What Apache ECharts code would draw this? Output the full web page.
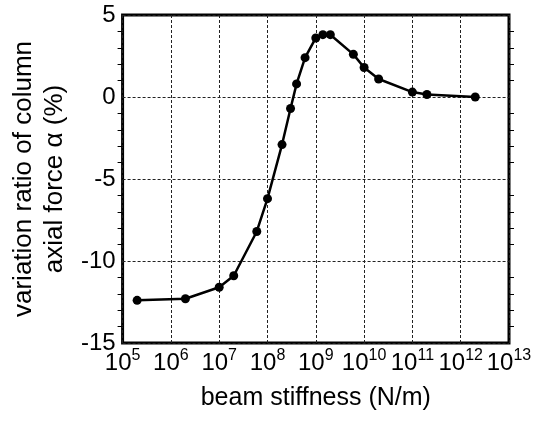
<!DOCTYPE html>
<html>
<head>
<meta charset="utf-8">
<script src="https://cdn.jsdelivr.net/npm/echarts@6/dist/echarts.min.js"></script>
<style>
  html, body { margin: 0; padding: 0; background: #fff; }
  #main { width: 538px; height: 421px; }
</style>
</head>
<body>
<div id="main"></div>
<script>
// beam stiffness (N/m) and variation ratio of column axial force (%)
var stiffness = [2e5, 2e6, 1e7, 2e7, 6e7, 1e8, 2e8, 3e8, 4e8, 6e8, 1e9, 1.4e9, 2e9, 6e9, 1e10, 2e10, 1e11, 2e11, 2e12];
var ratio = [-12.4, -12.3, -11.6, -10.9, -8.2, -6.2, -2.9, -0.7, 0.8, 2.4, 3.6, 3.8, 3.8, 2.6, 1.8, 1.1, 0.3, 0.15, 0];

var xName = 'beam stiffness (N/m)';
var yName = 'variation ratio of column\naxial force α (%)';

var font = 'Liberation Sans, Arial, sans-serif';
var myChart = echarts.init(document.getElementById('main'));

var gridLine = { show: true, lineStyle: { color: '#222', type: [3, 2], width: 1 } };

var option = {
  animation: false,
  textStyle: { fontFamily: font, color: '#000' },
  grid: {
    left: 119, right: 29, top: 15, bottom: 78,
    show: true, borderColor: '#000', borderWidth: 3, backgroundColor: 'transparent'
  },
  xAxis: {
    type: 'log',
    logBase: 10,
    min: 1e5,
    max: 1e13,
    splitNumber: 8,
    name: xName,
    nameLocation: 'middle',
    nameGap: 43,
    nameTextStyle: { fontSize: 25, color: '#000', fontFamily: font },
    axisLine: { show: false },
    axisTick: { show: false },
    splitLine: gridLine,
    axisLabel: {
      margin: 5,
      color: '#000',
      formatter: function (v) {
        return '{b|10}{s|' + Math.round(Math.log10(v)) + '}';
      },
      rich: {
        b: { fontSize: 24, lineHeight: 24, fontFamily: font, color: '#000', padding: [7, 0, 0, 0] },
        s: { fontSize: 16, lineHeight: 16, fontFamily: font, color: '#000', verticalAlign: 'top' }
      }
    }
  },
  yAxis: [{
    type: 'value',
    min: -15,
    max: 5,
    interval: 5,
    name: yName,
    nameLocation: 'middle',
    nameGap: 40,
    nameTextStyle: { fontSize: 26, color: '#000', fontFamily: font, lineHeight: 31 },
    axisLine: { show: false },
    axisTick: { show: false },
    minorTick: { show: true, splitNumber: 5, length: 5, lineStyle: { color: '#000', width: 1 } },
    splitLine: gridLine,
    axisLabel: { fontSize: 24, color: '#000', fontFamily: font, margin: 7 }
  }, {
    type: 'value',
    position: 'right',
    min: -15,
    max: 5,
    interval: 5,
    axisLine: { show: false },
    axisTick: { show: false },
    minorTick: { show: true, splitNumber: 5, length: 5, lineStyle: { color: '#000', width: 1 } },
    splitLine: { show: false },
    axisLabel: { show: false }
  }],
  series: [{
    type: 'line',
    data: stiffness.map(function (x, i) { return [x, ratio[i]]; }),
    symbol: 'circle',
    symbolSize: 9,
    lineStyle: { color: '#000', width: 2.5 },
    itemStyle: { color: '#000' }
  }]
};

myChart.setOption(option);
</script>
</body>
</html>
